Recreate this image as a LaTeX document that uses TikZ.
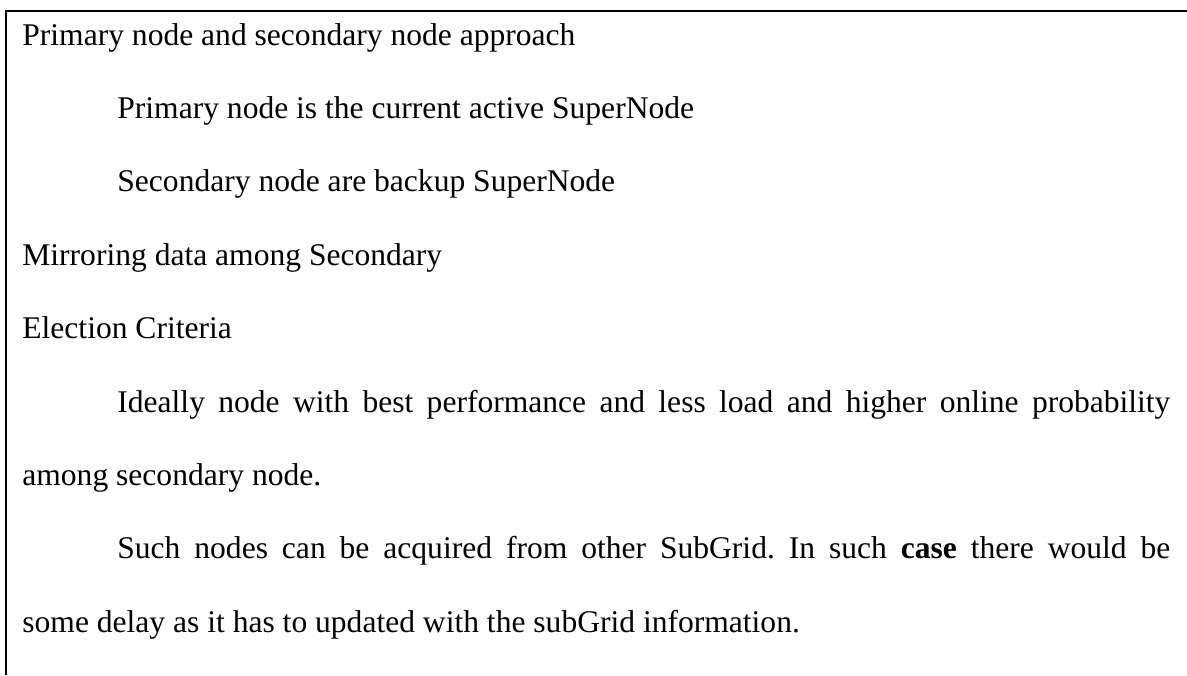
\documentclass[tikz,border=0pt]{standalone}
\usepackage{fontspec}
\setmainfont{Liberation Serif}
\frenchspacing

\tikzset{
  txt/.style={anchor=base west, inner sep=0pt, font=\fontsize{15.78pt}{18pt}\selectfont},
  frame/.style={line width=1pt, black}
}

\begin{document}
\begin{tikzpicture}[x=0.5pt, y=-0.5pt]
  \useasboundingbox (0,0) rectangle (1187,675);
  \coordinate (corner) at (6,11);
  \coordinate (topend) at (1187,11);
  \coordinate (leftend) at (6,675);
  \draw[frame] (leftend) -- (corner) -- (topend);
  \node[txt] (head) at (22,45) {Primary node and secondary node approach};
  \node[txt] (primary) at (117,118.4) {Primary node is the current active SuperNode};
  \node[txt] (secondary) at (117,191.8) {Secondary node are backup SuperNode};
  \node[txt] (mirror) at (22,265.2) {Mirroring data among Secondary};
  \node[txt] (election) at (22,338.6) {Election Criteria};
  \node[txt] (ideally) at (117,412) {\makebox[526.5pt][s]{Ideally node with best performance and less load and higher online probability}};
  \node[txt] (among) at (22,485.4) {among secondary node.};
  \node[txt] (such) at (117,558.8) {\makebox[526.5pt][s]{Such nodes can be acquired from other SubGrid. In such \textbf{case} there would be}};
  \node[txt] (delay) at (22,632.2) {some delay as it has to updated with the subGrid information.};
\end{tikzpicture}
\end{document}
